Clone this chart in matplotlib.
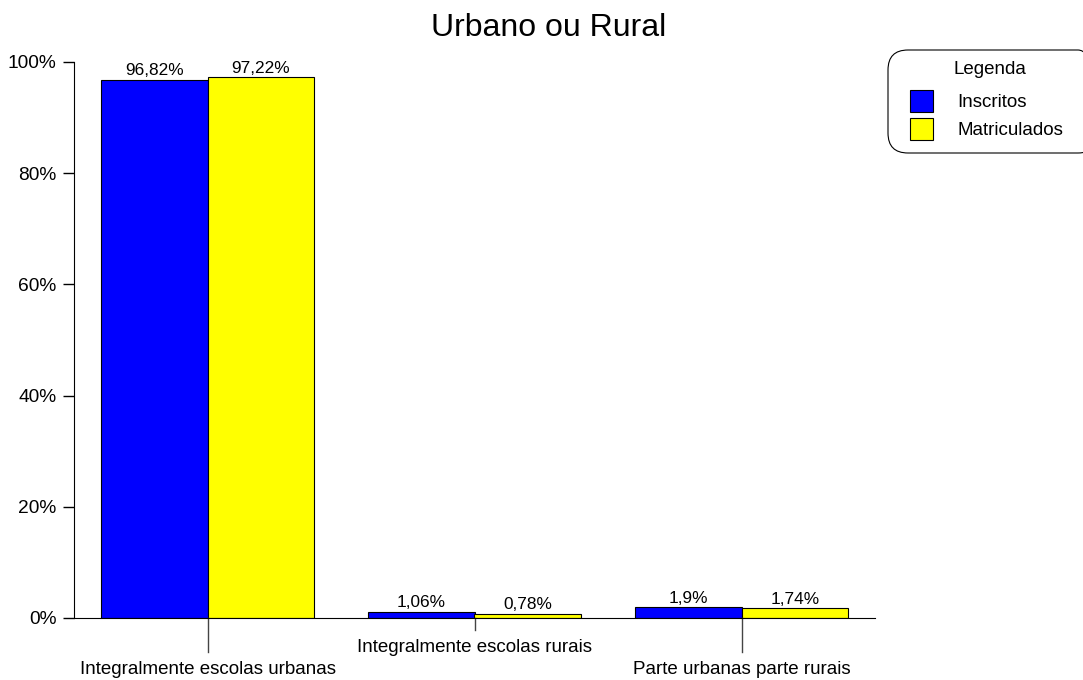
import matplotlib
matplotlib.use("Agg")
import matplotlib.pyplot as plt
import numpy as np
from matplotlib.patches import FancyBboxPatch
from matplotlib.transforms import blended_transform_factory

plt.rcParams['font.family'] = ['Liberation Sans', 'DejaVu Sans']

# Data
categorias = ["Integralmente escolas urbanas", "Integralmente escolas rurais", "Parte urbanas parte rurais"]
inscritos = [96.82, 1.06, 1.9]
matriculados = [97.22, 0.78, 1.74]
rotulos_inscritos = ["96,82%", "1,06%", "1,9%"]
rotulos_matriculados = ["97,22%", "0,78%", "1,74%"]
y_ticks = [0, 20, 40, 60, 80, 100]

W, H = 1083, 680
fig = plt.figure(figsize=(W / 100, H / 100), dpi=100)
ax = fig.add_axes([74 / W, 1 - 618 / H, (875 - 74) / W, (618 - 62) / H])

x = np.arange(len(categorias))
width = 0.4
b1 = ax.bar(x - width / 2, inscritos, width, color="#0000ff", edgecolor="black", linewidth=0.8, label="Inscritos")
b2 = ax.bar(x + width / 2, matriculados, width, color="#ffff00", edgecolor="black", linewidth=0.8, label="Matriculados")

# value labels above bars
for rects, labels in ((b1, rotulos_inscritos), (b2, rotulos_matriculados)):
    for r, lab in zip(rects, labels):
        ax.text(r.get_x() + r.get_width() / 2, r.get_height() + 0.3, lab,
                ha="center", va="bottom", fontsize=12.4)

ax.set_xlim(-0.5, len(categorias) - 0.5)
ax.set_ylim(0, 100)
ax.set_yticks(y_ticks)
ax.set_yticklabels([f"{t}%" for t in y_ticks], fontsize=13.8)
ax.tick_params(axis="y", length=8, width=1, pad=4.5)
ax.set_xticks([])
for s in ("top", "right"):
    ax.spines[s].set_visible(False)

# staggered category labels with leader lines
trans = blended_transform_factory(ax.transData, ax.transAxes)
px = 1 / 556.0
for i, cat in enumerate(categorias):
    if i % 2 == 0:
        drop, ty = 34 * px, -52 * px
    else:
        drop, ty = 12 * px, -30 * px
    ax.plot([x[i], x[i]], [0, -drop], color="#444444", lw=1, transform=trans, clip_on=False)
    ax.text(x[i], ty, cat, ha="center", va="center", fontsize=13.5, transform=trans)

fig.text(549 / W, 1 - 28 / H, "Urbano ou Rural", ha="center", va="center", fontsize=23)

# legend without frame, plus title and a rounded box drawn separately
leg = fig.legend(loc="upper left", bbox_to_anchor=(910 / W, 1 - 90 / H),
                 fontsize=13.5, frameon=False,
                 handlelength=1.23, handleheight=1.41, handletextpad=1.28,
                 borderpad=0, labelspacing=0.32, borderaxespad=0)
fig.text(990 / W, 1 - 69 / H, "Legenda", ha="center", va="center", fontsize=13.5)
box = FancyBboxPatch((8.88, (H - 153) / 100), 2.1, 1.03,
                     boxstyle="round,pad=0,rounding_size=0.2",
                     transform=fig.dpi_scale_trans, facecolor="none",
                     edgecolor="black", linewidth=0.8)
fig.add_artist(box)

fig.savefig("out.png", dpi=100)
